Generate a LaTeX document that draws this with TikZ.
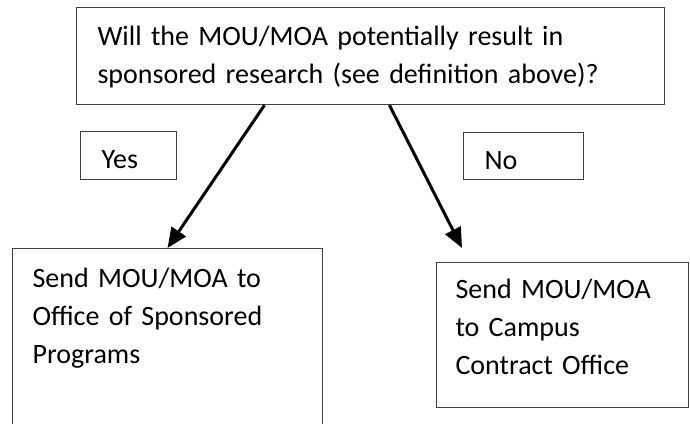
\documentclass[tikz,border=0pt]{standalone}
\usepackage{fontspec}
\setmainfont{Carlito}
\usetikzlibrary{arrows.meta,calc}
\tikzset{
  flowbox/.style={draw=black!75, line width=1.1pt, anchor=north west, align=left,
    inner xsep=21pt, inner ysep=0pt, font=\fontsize{28}{38}\selectfont},
  flowarrow/.style={line width=3pt, -{Triangle[length=20pt,width=17pt]}}
}

\begin{document}
\begin{tikzpicture}[x=1pt,y=-1pt]
  \useasboundingbox (0,0) rectangle (690,423);
  % question and answers
  \node[flowbox, text width=546pt, text height=38pt, text depth=59pt] (question) at (76,7)
    {Will the MOU/MOA potentially result in\\sponsored research (see definition above)?};
  \node[flowbox, text width=54pt, text height=37pt, text depth=11pt] (yes) at (80,131) {Yes};
  \node[flowbox, text width=78pt, text height=37pt, text depth=10pt] (no) at (463,132) {No};
  % where the MOU/MOA goes
  \node[flowbox, inner xsep=20pt, text width=270pt, text height=39pt, text depth=140pt] (osp) at (12,248)
    {Send MOU/MOA to\\Office of Sponsored\\Programs};
  \node[flowbox, inner xsep=19pt, text width=214pt, text height=36pt, text depth=109pt] (cco) at (436,262)
    {Send MOU/MOA\\to Campus\\Contract Office};
  \coordinate (nogoes) at (462,248);
  \draw[flowarrow] ($(question.south west)!0.32!(question.south east)$) -- ($(osp.north west)!0.5!(osp.north east)$);
  \draw[flowarrow] ($(question.south west)!0.532!(question.south east)$) -- (nogoes);
\end{tikzpicture}
\end{document}
